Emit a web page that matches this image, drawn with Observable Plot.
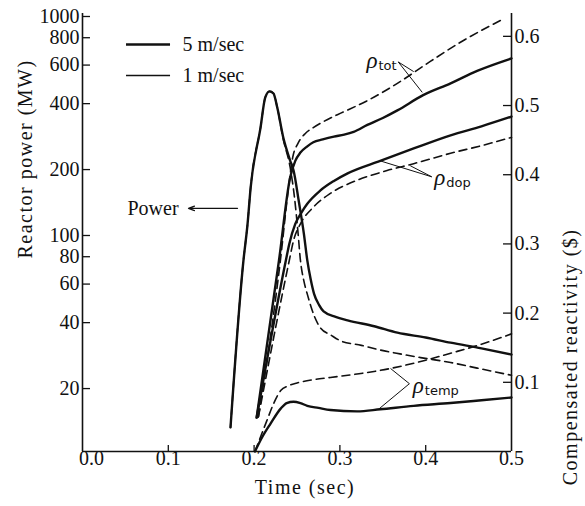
<!DOCTYPE html>
<html><head><meta charset="utf-8">
<script src="https://cdn.jsdelivr.net/npm/d3@7"></script>
<script src="https://cdn.jsdelivr.net/npm/@observablehq/plot@0.6"></script>
<style>
body{margin:0;background:#fff;}
#chart{position:relative;width:585px;height:506px;}
#chart svg{position:absolute;left:0;top:0;}
</style></head><body><div id="chart"></div>
<script>
// ---------- data ----------
const xTicks = [0, 0.1, 0.2, 0.3, 0.4, 0.5];
const powerTicks = [20, 40, 60, 80, 100, 200, 400, 600, 800, 1000];
const rhoTicks = [0.1, 0.2, 0.3, 0.4, 0.5, 0.6];

// Reactor power, 5 m/sec (solid)
const p5Time = [0.1725, 0.1876, 0.1923, 0.196, 0.2075, 0.213, 0.218, 0.2226, 0.227, 0.234, 0.242, 0.246, 0.252, 0.258, 0.262, 0.266, 0.27, 0.276, 0.281, 0.295, 0.309, 0.34, 0.367, 0.4, 0.429, 0.465, 0.5];
const p5MW   = [13.3, 77, 112, 166, 311, 427, 455, 445, 384, 280, 220, 198, 144, 102, 77, 63, 54, 48, 45, 42.5, 41, 38.5, 36, 34.2, 32.4, 30.5, 28.6];
// Reactor power, 1 m/sec (dashed)
const p1Time = [0.1725, 0.1876, 0.1923, 0.196, 0.2075, 0.213, 0.218, 0.2226, 0.227, 0.234, 0.242, 0.247, 0.251, 0.254, 0.258, 0.262, 0.27, 0.277, 0.29, 0.301, 0.325, 0.347, 0.37, 0.394, 0.429, 0.46, 0.5];
const p1MW   = [13.3, 77, 112, 166, 311, 427, 455, 445, 384, 275, 205, 150, 105, 77, 62, 54, 43, 38, 35, 33, 31.5, 30, 28.8, 27.7, 26.3, 24.8, 23];

// rho_tot
const tot5Time = [0.203, 0.229, 0.242, 0.248, 0.254, 0.262, 0.269, 0.28, 0.293, 0.305, 0.316, 0.332, 0.35, 0.367, 0.397, 0.429, 0.46, 0.5];
const tot5Rho  = [0.049, 0.276, 0.396, 0.42, 0.432, 0.441, 0.447, 0.451, 0.455, 0.458, 0.462, 0.472, 0.482, 0.493, 0.515, 0.532, 0.55, 0.568];
const tot1Time = [0.205, 0.231, 0.24, 0.245, 0.251, 0.26, 0.269, 0.289, 0.301, 0.332, 0.367, 0.402, 0.444, 0.492];
const tot1Rho  = [0.05, 0.28, 0.38, 0.425, 0.445, 0.46, 0.468, 0.482, 0.489, 0.507, 0.532, 0.561, 0.594, 0.626];
// rho_dop
const dop5Time = [0.203, 0.237, 0.241, 0.248, 0.255, 0.262, 0.277, 0.293, 0.309, 0.347, 0.386, 0.429, 0.465, 0.5];
const dop5Rho  = [0.049, 0.276, 0.30, 0.329, 0.345, 0.358, 0.377, 0.391, 0.402, 0.42, 0.438, 0.457, 0.47, 0.484];
const dop1Time = [0.205, 0.241, 0.246, 0.254, 0.269, 0.289, 0.32, 0.355, 0.386, 0.429, 0.465, 0.5];
const dop1Rho  = [0.05, 0.276, 0.305, 0.329, 0.353, 0.373, 0.392, 0.406, 0.416, 0.431, 0.442, 0.454];
// rho_temp
const temp5Time = [0.201, 0.21, 0.219, 0.231, 0.238, 0.246, 0.254, 0.262, 0.275, 0.289, 0.32, 0.347, 0.386, 0.429, 0.465, 0.5];
const temp5Rho  = [0.0, 0.022, 0.04, 0.062, 0.07, 0.072, 0.07, 0.066, 0.063, 0.06, 0.058, 0.061, 0.066, 0.07, 0.074, 0.078];
const temp1Time = [0.201, 0.215, 0.223, 0.231, 0.24, 0.25, 0.27, 0.289, 0.32, 0.359, 0.4, 0.429, 0.465, 0.5];
const temp1Rho  = [0.0, 0.045, 0.07, 0.088, 0.095, 0.099, 0.104, 0.107, 0.112, 0.12, 0.132, 0.142, 0.155, 0.17];

// legend
const legendLabels = ["5 m/sec", "1 m/sec"];
const legendPower = [745, 538];
const legendDash = [null, "8,5"];

// annotations: labels, label anchor, leader ends (on curves)
const annSub = ["tot", "dop", "temp"];
const annT = [0.331, 0.410, 0.385];
const annR = [0.565, 0.396, 0.095];
const annApexT = [0.368, 0.407, 0.381];
const annApexR = [0.563, 0.397, 0.098];
const annSolidT = [0.396, 0.347, 0.345];
const annSolidR = [0.519, 0.420, 0.061];
const annDashT = [0.386, 0.382, 0.359];
const annDashR = [0.549, 0.413, 0.120];

// ---------- layout ----------
const W = 585, H = 506;
const M = {top: 13, right: 74, bottom: 55, left: 82};
const tDomain = [0, 0.5];
const pDomain = [10.32, 1032];
const rDomain = [0, 0.633];
const SERIF = "Liberation Serif";
const SANS = "DejaVu Sans";
const zip = (xs, ys) => xs.map((x, i) => ({x, y: ys[i]}));

const common = {
  width: W, height: H,
  marginTop: M.top, marginRight: M.right, marginBottom: M.bottom, marginLeft: M.left,
  style: {fontFamily: "Liberation Serif, serif", fontSize: "20px", background: "transparent"}
};
const txt = {fontSize: 20, fontFamily: SERIF, fill: "#111"};

const tickLen = 0.0093; // ~8px in time units
const pTickUp = Math.pow(10, 6 / 219);

const plot1 = Plot.plot({
  ...common,
  x: {domain: tDomain, axis: null},
  y: {type: "log", domain: pDomain, axis: null},
  marks: [
    // left tick labels
    Plot.text(powerTicks, {y: d => d, frameAnchor: "left", dx: -3, textAnchor: "end", text: d => String(d), ...txt}),
    // x tick labels (the 0.0 label sits a little right of the corner, as in the reference)
    Plot.text(xTicks.slice(0, 1), {x: d => d, frameAnchor: "bottom", dy: 13, dx: 9, text: d => d3.format(".1f")(d), ...txt}),
    Plot.text(xTicks.slice(1), {x: d => d, frameAnchor: "bottom", dy: 13, text: d => d3.format(".1f")(d), ...txt}),
    Plot.ruleX([0], {stroke: "#111", strokeWidth: 1.6}),
    Plot.ruleY([pDomain[0]], {stroke: "#111", strokeWidth: 1.6}),
    Plot.ruleY(powerTicks, {y: d => d, x1: 0, x2: tickLen, stroke: "#111", strokeWidth: 1.3}),
    Plot.ruleX(xTicks.slice(1, 5), {x: d => d, y1: pDomain[0], y2: pDomain[0] * pTickUp, stroke: "#111", strokeWidth: 1.3}),
    Plot.line(zip(p5Time, p5MW), {x: "x", y: "y", stroke: "#111", strokeWidth: 2.4, curve: "monotone-x"}),
    Plot.line(zip(p1Time, p1MW), {x: "x", y: "y", stroke: "#111", strokeWidth: 1.6, strokeDasharray: "8,5", curve: "monotone-x"}),
    // legend
    Plot.ruleY(legendPower, {y: d => d, x1: 0.0513, x2: 0.1026, stroke: "#111",
      strokeWidth: (d, i) => i === 0 ? 2.4 : 1.6, strokeDasharray: (d, i) => legendDash[i]}),
    Plot.text(legendLabels, {x: 0.1166, y: (d, i) => legendPower[i], text: d => d, textAnchor: "start", ...txt}),
    // Power label + arrow
    Plot.text(["Power"], {x: 0.0524, y: 133, text: d => d, textAnchor: "start", ...txt}),
    Plot.arrow([0], {x1: 0.1807, y1: 133, x2: 0.1235, y2: 133, stroke: "#111", strokeWidth: 1.2, headLength: 8, headAngle: 40}),
    // axis titles
    Plot.text(["Reactor power (MW)"], {frameAnchor: "left", dx: -57, dy: 26, rotate: -90, text: d => d, ...txt}),
    Plot.text(["Time (sec)"], {frameAnchor: "bottom", dx: 8, dy: 42, text: d => d, ...txt})
  ]
});

const plot2 = Plot.plot({
  ...common,
  x: {domain: tDomain, axis: null},
  y: {domain: rDomain, axis: null},
  marks: [
    // right tick labels
    Plot.text(rhoTicks, {y: d => d, frameAnchor: "right", dx: 3, textAnchor: "start", text: d => d3.format(".1f")(d), ...txt}),
    Plot.ruleX([0.5], {stroke: "#111", strokeWidth: 1.6}),
    Plot.ruleY(rhoTicks, {y: d => d, x1: 0.5 - tickLen, x2: 0.5, stroke: "#111", strokeWidth: 1.3}),
    Plot.line(zip(tot5Time, tot5Rho), {x: "x", y: "y", stroke: "#111", strokeWidth: 2.4, curve: "monotone-x"}),
    Plot.line(zip(tot1Time, tot1Rho), {x: "x", y: "y", stroke: "#111", strokeWidth: 1.6, strokeDasharray: "8,5", curve: "monotone-x"}),
    Plot.line(zip(dop5Time, dop5Rho), {x: "x", y: "y", stroke: "#111", strokeWidth: 2.4, curve: "monotone-x"}),
    Plot.line(zip(dop1Time, dop1Rho), {x: "x", y: "y", stroke: "#111", strokeWidth: 1.6, strokeDasharray: "8,5", curve: "monotone-x"}),
    Plot.line(zip(temp5Time, temp5Rho), {x: "x", y: "y", stroke: "#111", strokeWidth: 2.4, curve: "monotone-x"}),
    Plot.line(zip(temp1Time, temp1Rho), {x: "x", y: "y", stroke: "#111", strokeWidth: 1.6, strokeDasharray: "8,5", curve: "monotone-x"}),
    // annotation leaders
    Plot.link(annSub, {x1: (d, i) => annApexT[i], y1: (d, i) => annApexR[i], x2: (d, i) => annSolidT[i], y2: (d, i) => annSolidR[i], stroke: "#111", strokeWidth: 1}),
    Plot.link(annSub, {x1: (d, i) => annApexT[i], y1: (d, i) => annApexR[i], x2: (d, i) => annDashT[i], y2: (d, i) => annDashR[i], stroke: "#111", strokeWidth: 1}),
    // annotation labels: rho + subscript
    Plot.text(annSub, {x: (d, i) => annT[i], y: (d, i) => annR[i], text: () => "ρ", textAnchor: "start", fontSize: 23, fontStyle: "italic", fontFamily: SERIF, fill: "#111"}),
    Plot.text(annSub, {x: (d, i) => annT[i], y: (d, i) => annR[i], text: d => d, dx: 12, dy: 5, textAnchor: "start", fontSize: 13, fontFamily: SANS, fill: "#111"}),
    // right axis title
    Plot.text(["Compensated reactivity ($)"], {frameAnchor: "right", dx: 59, dy: -4, rotate: -90, text: d => d, ...txt})
  ]
});

const host = document.getElementById("chart");
host.appendChild(plot1);
host.appendChild(plot2);
d3.selectAll("#chart text").filter(function() {
  return this.textContent === "Reactor power (MW)" || this.textContent === "Compensated reactivity ($)" || this.textContent === "Time (sec)";
}).style("letter-spacing", "1.5px");
</script>
</body></html>
